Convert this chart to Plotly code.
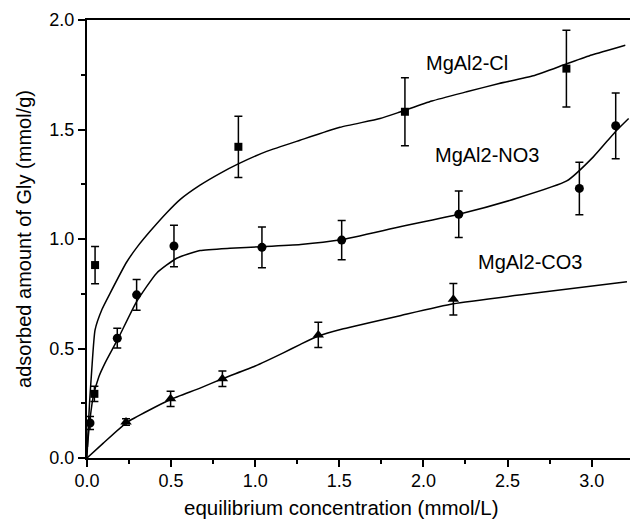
import plotly.graph_objects as go

# measured points (x, y, error)
cl_x = [0.044, 0.048, 0.90, 1.89, 2.85]
cl_y = [0.293, 0.881, 1.421, 1.581, 1.778]
cl_e = [0.035, 0.085, 0.140, 0.155, 0.175]

no3_x = [0.018, 0.18, 0.295, 0.517, 1.04, 1.514, 2.21, 2.927, 3.143]
no3_y = [0.160, 0.547, 0.745, 0.968, 0.962, 0.995, 1.113, 1.231, 1.517]
no3_e = [0.030, 0.045, 0.070, 0.095, 0.093, 0.090, 0.106, 0.120, 0.150]

co3_x = [0.232, 0.497, 0.805, 1.375, 2.178]
co3_y = [0.164, 0.270, 0.362, 0.562, 0.725]
co3_e = [0.015, 0.035, 0.035, 0.058, 0.072]

# fitted curves
cl_fx = [0.0, 0.005, 0.015, 0.028, 0.048, 0.09, 0.137, 0.236, 0.30, 0.375, 0.474, 0.553,
         0.672, 0.791, 0.896, 1.068, 1.266, 1.504, 1.742, 1.861, 2.05, 2.257, 2.45,
         2.653, 2.852, 3.0, 3.2]
cl_fy = [0.0, 0.10, 0.25, 0.40, 0.585, 0.68, 0.752, 0.895, 0.965, 1.035, 1.12, 1.18,
         1.246, 1.30, 1.342, 1.40, 1.451, 1.51, 1.55, 1.58, 1.63, 1.672, 1.71,
         1.745, 1.80, 1.84, 1.885]

no3_fx = [0.003, 0.008, 0.02, 0.037, 0.07, 0.107, 0.186, 0.295, 0.414, 0.533, 0.672,
          0.85, 1.04, 1.27, 1.5, 1.861, 2.21, 2.555, 2.852, 3.01, 3.14, 3.22]
no3_fy = [0.05, 0.10, 0.19, 0.28, 0.37, 0.433, 0.547, 0.714, 0.844, 0.912, 0.947,
          0.958, 0.965, 0.975, 0.995, 1.056, 1.113, 1.186, 1.265, 1.375, 1.489, 1.55]

co3_fx = [0.0, 0.097, 0.236, 0.493, 0.672, 0.805, 1.0, 1.167, 1.266, 1.375, 1.524,
          1.861, 2.178, 2.653, 3.21]
co3_fy = [0.0, 0.068, 0.162, 0.266, 0.319, 0.362, 0.42, 0.48, 0.518, 0.557, 0.59,
          0.65, 0.704, 0.752, 0.805]

labels = ["MgAl2-Cl", "MgAl2-NO3", "MgAl2-CO3"]
label_x = [2.259, 2.376, 2.631]
label_y = [1.803, 1.383, 0.893]

FONT = "Liberation Sans, Arial, sans-serif"

fig = go.Figure()
for fx, fy in [(cl_fx, cl_fy), (no3_fx, no3_fy), (co3_fx, co3_fy)]:
    fig.add_trace(go.Scatter(x=fx, y=fy, mode="lines",
                             line=dict(color="black", width=1.5, shape="spline", smoothing=0.5),
                             hoverinfo="skip", showlegend=False))

for xs, ys, es, sym, sz in [(cl_x, cl_y, cl_e, "square", 8),
                            (no3_x, no3_y, no3_e, "circle", 9),
                            (co3_x, co3_y, co3_e, "triangle-up", 10)]:
    fig.add_trace(go.Scatter(x=xs, y=ys, mode="markers",
                             marker=dict(symbol=sym, size=sz, color="black"),
                             error_y=dict(type="data", array=es, visible=True,
                                          color="black", thickness=1.5, width=4),
                             showlegend=False))

for t, lx, ly in zip(labels, label_x, label_y):
    fig.add_annotation(x=lx, y=ly, text=t, showarrow=False, xanchor="center", yanchor="middle",
                       font=dict(family=FONT, size=20, color="black"))

fig.add_annotation(x=(340.5 - 87) / 543, y=0, xref="paper", yref="paper", yshift=-36,
                   text="equilibrium concentration (mmol/L)", showarrow=False,
                   xanchor="center", yanchor="top",
                   font=dict(family=FONT, size=20.5, color="black"))

fig.update_layout(
    width=630, height=520,
    margin=dict(l=87, r=0, t=20, b=62),
    paper_bgcolor="white", plot_bgcolor="white",
    font=dict(family=FONT, size=18, color="black"),
    xaxis=dict(range=[0, 3.228], dtick=0.5, tick0=0, tickformat=".1f",
               showgrid=False, zeroline=False, showline=True, linecolor="black",
               linewidth=2, mirror=True, ticks="outside", ticklen=7, tickwidth=2,
               tickcolor="black", ticklabelstandoff=-2,
               minor=dict(dtick=0.25, tick0=0, ticks="outside", ticklen=4, tickwidth=2,
                          tickcolor="black", showgrid=False),
               tickfont=dict(size=18)),
    yaxis=dict(range=[0, 2.0], dtick=0.5, tick0=0, tickformat=".1f",
               showgrid=False, zeroline=False, showline=True, linecolor="black",
               linewidth=2, ticks="outside", ticklen=7, tickwidth=2, tickcolor="black",
               minor=dict(dtick=0.25, tick0=0, ticks="outside", ticklen=4, tickwidth=2,
                          tickcolor="black", showgrid=False),
               tickfont=dict(size=18),
               title=dict(text="adsorbed amount of Gly (mmol/g)", standoff=12,
                          font=dict(size=20))),
)

fig.write_html("out.html")
